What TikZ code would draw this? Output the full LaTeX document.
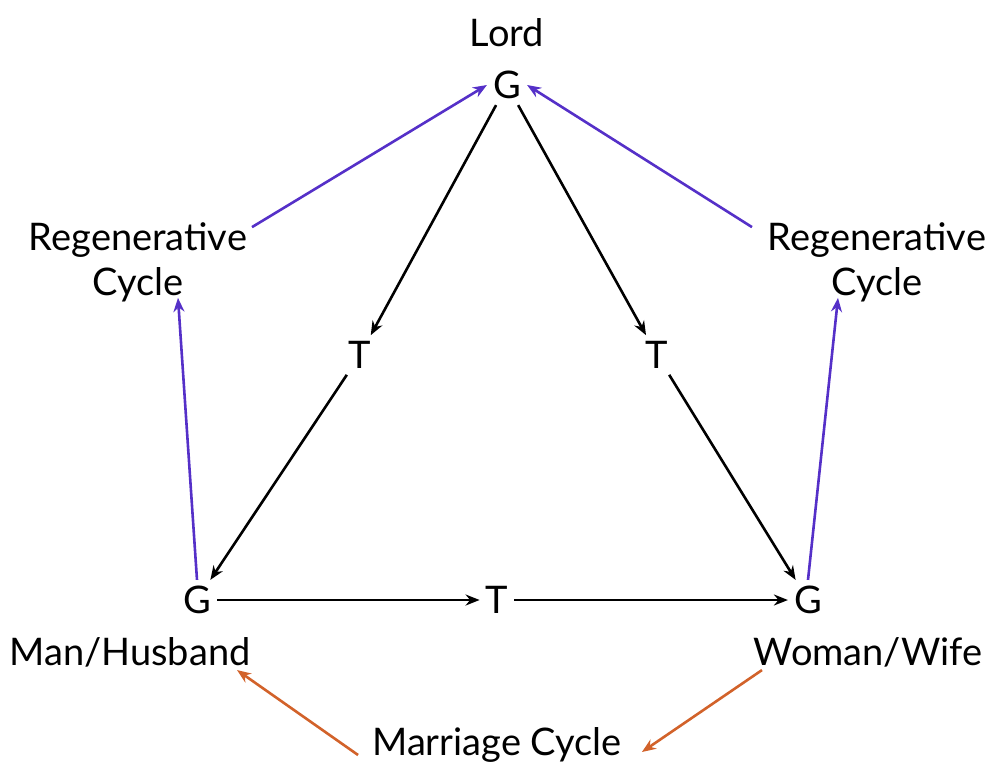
\documentclass[tikz,border=0pt]{standalone}
\usepackage{fontspec}
\setmainfont{Lato}
\usetikzlibrary{arrows.meta,calc}
\definecolor{regen}{HTML}{5530C8}
\definecolor{marr}{HTML}{D2622A}
\begin{document}
\begin{tikzpicture}[x=1pt,y=-1pt,
  lbl/.style={inner sep=0pt,font=\fontsize{38}{45}\selectfont,align=center},
  gnode/.style={lbl,inner sep=6pt},
  tip/.style={-{Stealth[length=14pt,width=11pt]}},
  blk/.style={line width=2.6pt,draw=black,tip},
  pur/.style={line width=2.6pt,draw=regen,tip},
  org/.style={line width=2.6pt,draw=marr,tip}]
\useasboundingbox (0,0) rectangle (997,772);
\node[lbl] (lord) at (507,33) {Lord};
\node[gnode] (gt) at (507,85) {G};
\node[lbl] (rl) at (138,262) {Regenerative\\Cycle};
\node[lbl] (rr) at (877,262) {Regenerative\\Cycle};
\node[gnode] (tl) at (360,355) {T};
\node[gnode] (tr) at (657,355) {T};
\node[gnode] (gl) at (197,600) {G};
\node[gnode] (tb) at (497,600) {T};
\node[gnode] (gr) at (808,600) {G};
\node[lbl] (man) at (130,652) {Man/Husband};
\node[lbl] (wom) at (868,652) {Woman/Wife};
\node[lbl] (mc) at (497,745) {Marriage Cycle};
% black
\draw[blk] (gt) -- (tl);
\draw[blk] (gt) -- (tr);
\draw[blk] (tl) -- (gl);
\draw[blk] (tr) -- (gr);
\draw[blk] (gl) -- (tb);
\draw[blk] (tb) -- (gr);
% purple
\draw[pur] ([xshift=114pt,yshift=-5pt]rl.north) -- (gt.west);
\draw[pur] ([xshift=-125pt,yshift=-5pt]rr.north) -- (gt.east);
\draw[pur] (gl.north) -- ([xshift=40pt,yshift=4pt]rl.south);
\draw[pur] (gr.north) -- ([xshift=-39pt,yshift=4pt]rr.south);
% orange
\draw[org] ([xshift=-14pt,yshift=-10pt]mc.west) -- ([xshift=107pt,yshift=-3pt]man.south);
\draw[org] ([xshift=-106pt,yshift=-3pt]wom.south) -- ([xshift=20pt,yshift=-7pt]mc.east);
\end{tikzpicture}
\end{document}
